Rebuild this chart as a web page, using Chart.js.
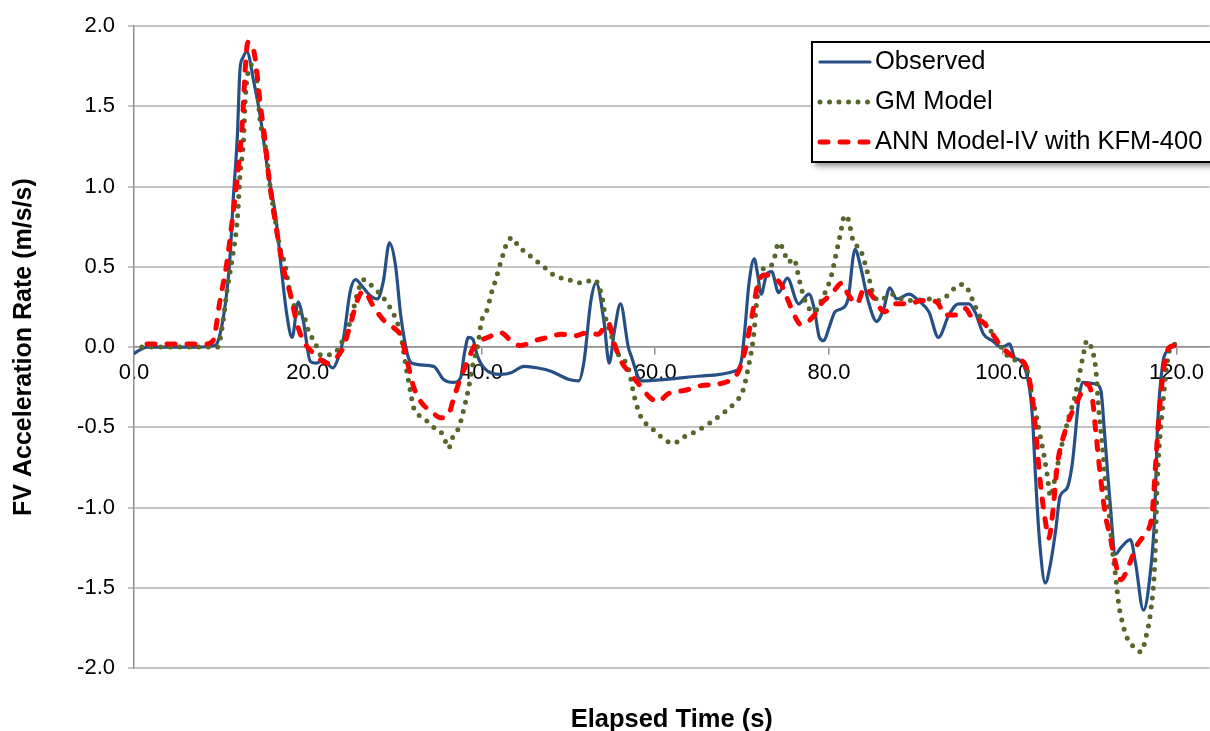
<!DOCTYPE html>
<html>
<head>
<meta charset="utf-8">
<title>FV Acceleration Rate</title>
<script src="https://cdn.jsdelivr.net/npm/chart.js@4.4.0/dist/chart.umd.min.js"></script>
<style>
  html, body { margin: 0; padding: 0; background: #fff; }
  #chartWrap { width: 1210px; height: 731px; }
</style>
</head>
<body>
<div id="chartWrap"><canvas id="accelChart" width="1210" height="731"></canvas></div>
<script>
// Elapsed time (s) and acceleration rate (m/s/s) for each series
const obsTime = [
  0, 0.6, 1.5, 4, 7, 9.3, 9.9, 10.7, 11.1, 11.4,
  11.9, 12.2, 12.5, 13.0, 13.8, 14.5, 15.4, 16.3, 17.0, 17.6,
  18.2, 18.9, 19.5, 20.3, 21.0, 21.8, 22.9, 23.5, 24.1, 24.9,
  25.5, 26.4, 27.2, 28.0, 28.7, 29.4, 30.1, 30.7, 31.5, 32.0,
  34.5, 35.6, 36.8, 37.6, 38.0, 38.5, 39.0, 39.5, 40.3, 42.2,
  43.4, 44.9, 46.5, 48.0, 50.0, 51.2, 51.8, 52.6, 53.2, 54.1,
  54.7, 55.3, 56.0, 56.9, 57.2, 58.4, 61.5, 65.3, 69.1, 69.9,
  70.3, 70.8, 71.4, 71.8, 72.2, 72.8, 73.4, 74.2, 75.2, 76.5,
  77.7, 78.3, 78.9, 79.4, 80.0, 80.7, 81.5, 82.2, 83.0, 83.6,
  84.5, 85.5, 86.3, 87.0, 87.8, 89.2, 90.3, 91.5, 92.6, 93.8,
  94.9, 96.1, 96.8, 97.8, 98.8, 99.9, 100.8, 101.4, 101.9, 103.0,
  103.4, 103.8, 104.2, 104.9, 105.5, 106.1, 106.6, 107.4, 108.0, 108.8,
  109.2, 110.7, 111.3, 111.7, 112.3, 113.0, 113.6, 114.7, 115.3, 116.2,
  116.9, 117.5, 117.8, 118.4, 119.0, 119.5
];
const obsValue = [
  -0.04, -0.02, 0.0, 0.0, 0.0, 0.01, 0.08, 0.35, 0.6, 0.9,
  1.32, 1.73, 1.8, 1.84, 1.65, 1.45, 1.1, 0.82, 0.47, 0.2,
  0.06, 0.28, 0.16, -0.09, -0.1, -0.08, -0.13, -0.07, 0.05, 0.35,
  0.42, 0.37, 0.32, 0.30, 0.41, 0.65, 0.51, 0.2, -0.05, -0.1,
  -0.12, -0.2, -0.22, -0.19, -0.05, 0.06, 0.05, -0.05, -0.13, -0.17,
  -0.16, -0.12, -0.13, -0.15, -0.2, -0.21, -0.09, 0.29, 0.4, 0.16,
  -0.1, 0.1, 0.27, 0.0, -0.05, -0.21, -0.2, -0.18, -0.15, -0.09,
  0.1, 0.4, 0.55, 0.45, 0.33, 0.45, 0.47, 0.34, 0.43, 0.27,
  0.33, 0.24, 0.06, 0.04, 0.12, 0.22, 0.24, 0.3, 0.61, 0.51,
  0.29, 0.16, 0.24, 0.37, 0.3, 0.33, 0.29, 0.22, 0.06, 0.2,
  0.27, 0.27, 0.22, 0.08, 0.04, 0.0, 0.02, -0.07, -0.08, -0.23,
  -0.42, -0.83, -1.18, -1.47, -1.35, -1.14, -0.93, -0.88, -0.73, -0.31,
  -0.22, -0.23, -0.27, -0.52, -0.93, -1.29, -1.25, -1.2, -1.35, -1.64,
  -1.45, -1.04, -0.52, -0.11, -0.02, 0.0
];

const gmTime = [
  0.9, 1.5, 5.0, 9.6, 10.2, 10.7, 11.3, 11.9, 12.2, 12.6,
  12.8, 13.0, 13.6, 14.0, 14.5, 15.1, 15.7, 16.3, 16.8, 17.4,
  18.0, 18.9, 19.5, 20.1, 20.9, 21.5, 23.0, 24.1, 24.9, 25.7,
  26.4, 27.2, 28.0, 29.2, 30.1, 30.7, 31.3, 31.8, 32.2, 33.3,
  34.5, 35.6, 36.2, 36.7, 37.4, 38.0, 38.5, 39.0, 39.6, 40.0,
  40.7, 41.1, 41.7, 42.0, 42.5, 43.0, 43.6, 44.3, 44.9, 46.0,
  47.2, 48.3, 50.0, 51.5, 53.0, 53.8, 54.3, 54.9, 55.7, 56.9,
  57.6, 58.4, 59.5, 60.7, 62.1, 63.3, 64.5, 66.1, 67.6, 69.1,
  70.1, 70.7, 71.3, 71.7, 72.2, 73.0, 73.6, 74.2, 74.8, 75.3,
  76.0, 76.3, 76.8, 77.4, 78.3, 79.2, 80.3, 80.7, 81.3, 81.8,
  82.2, 82.8, 83.6, 84.1, 84.6, 85.1, 85.8, 87.2, 88.4, 89.9,
  91.5, 92.6, 93.8, 94.7, 95.5, 96.1, 96.7, 97.4, 98.4, 99.6,
  100.3, 101.4, 102.6, 103.4, 104.2, 104.8, 105.1, 105.5, 106.1, 106.8,
  107.6, 108.3, 109.2, 109.7, 110.3, 110.7, 111.1, 111.5, 111.8, 112.3,
  112.6, 113.0, 113.4, 113.8, 114.1, 114.7, 115.3, 115.9, 116.6, 117.0,
  117.5, 117.8, 118.4, 119.2, 119.9
];
const gmValue = [
  0.0, 0.0, 0.0, 0.0, 0.14, 0.35, 0.55, 0.8, 1.07, 1.28,
  1.53, 1.67, 1.76, 1.73, 1.42, 1.26, 0.99, 0.78, 0.62, 0.51,
  0.33, 0.22, 0.2, 0.1, 0.02, -0.05, -0.04, 0.05, 0.16, 0.33,
  0.42, 0.39, 0.35, 0.27, 0.18, 0.08, -0.12, -0.27, -0.38, -0.44,
  -0.5, -0.55, -0.63, -0.56, -0.5, -0.38, -0.26, -0.11, 0.02, 0.16,
  0.24, 0.33, 0.43, 0.49, 0.58, 0.66, 0.68, 0.62, 0.6, 0.55,
  0.5, 0.45, 0.42, 0.4, 0.42, 0.33, 0.18, 0.08, -0.04, -0.13,
  -0.31, -0.44, -0.5, -0.56, -0.6, -0.56, -0.53, -0.48, -0.42, -0.35,
  -0.27, -0.13, 0.06, 0.29, 0.47, 0.5, 0.53, 0.65, 0.6, 0.53,
  0.55, 0.49, 0.37, 0.27, 0.22, 0.3, 0.45, 0.55, 0.7, 0.82,
  0.8, 0.66, 0.61, 0.53, 0.43, 0.33, 0.29, 0.33, 0.3, 0.29,
  0.3, 0.29, 0.33, 0.38, 0.39, 0.35, 0.27, 0.19, 0.12, 0.02,
  -0.04, -0.08, -0.11, -0.31, -0.52, -0.69, -0.79, -0.93, -0.79, -0.61,
  -0.44, -0.31, -0.07, 0.04, -0.02, -0.13, -0.42, -0.63, -0.83, -1.06,
  -1.25, -1.43, -1.62, -1.72, -1.78, -1.85, -1.87, -1.9, -1.78, -1.66,
  -1.35, -0.83, -0.38, -0.02, 0.02
];

const annTime = [
  1.5, 4.0, 6.0, 8.4, 9.1, 9.9, 10.7, 11.4, 12.0, 12.5,
  12.8, 13.1, 13.6, 14.0, 14.5, 15.1, 15.5, 15.9, 16.5, 17.2,
  18.0, 18.8, 19.5, 20.7, 22.3, 23.4, 24.1, 24.9, 25.7, 26.4,
  27.6, 28.7, 29.9, 30.7, 31.5, 32.2, 33.0, 34.2, 35.3, 36.2,
  36.8, 37.6, 38.4, 39.1, 39.9, 40.7, 42.2, 43.4, 44.5, 46.1,
  47.6, 49.2, 50.7, 52.2, 53.4, 54.6, 55.3, 56.1, 57.2, 58.4,
  59.3, 60.3, 61.5, 63.4, 65.3, 67.3, 68.8, 69.6, 70.3, 71.1,
  71.8, 72.6, 73.7, 74.5, 75.3, 76.0, 76.8, 77.6, 78.0, 78.6,
  79.1, 80.3, 81.5, 82.2, 83.2, 84.1, 85.1, 86.4, 87.6, 89.2,
  90.7, 91.8, 92.6, 93.3, 94.5, 95.7, 96.5, 97.6, 98.6, 99.6,
  100.7, 101.9, 102.6, 103.4, 103.8, 104.3, 104.9, 105.3, 105.7, 106.3,
  107.2, 108.2, 109.2, 109.7, 110.3, 110.7, 111.3, 111.8, 112.4, 113.0,
  113.6, 114.6, 115.3, 116.4, 117.2, 117.6, 118.0, 118.6, 119.2, 120.1
];
const annValue = [
  0.02, 0.02, 0.02, 0.02, 0.04, 0.29, 0.53, 0.83, 1.11, 1.42,
  1.73, 1.9, 1.88, 1.78, 1.53, 1.28, 1.07, 0.91, 0.7, 0.49,
  0.33, 0.14, 0.04, -0.04, -0.1, -0.06, 0.0, 0.14, 0.29, 0.35,
  0.25, 0.17, 0.12, 0.07, -0.1, -0.25, -0.34, -0.4, -0.44, -0.42,
  -0.32, -0.19, -0.09, 0.0, 0.04, 0.06, 0.09, 0.04, 0.01, 0.04,
  0.06, 0.08, 0.07, 0.09, 0.08, 0.15, 0.02, -0.09, -0.17, -0.25,
  -0.31, -0.34, -0.29, -0.27, -0.24, -0.23, -0.2, -0.15, -0.03, 0.18,
  0.39, 0.45, 0.43, 0.39, 0.29, 0.2, 0.14, 0.16, 0.18, 0.22,
  0.27, 0.33, 0.4, 0.33, 0.27, 0.37, 0.31, 0.22, 0.27, 0.27,
  0.29, 0.29, 0.27, 0.2, 0.2, 0.24, 0.18, 0.16, 0.1, 0.02,
  -0.04, -0.08, -0.11, -0.31, -0.52, -0.83, -1.08, -1.19, -1.06, -0.73,
  -0.52, -0.38, -0.27, -0.23, -0.31, -0.52, -0.83, -1.04, -1.19, -1.35,
  -1.45, -1.35, -1.25, -1.16, -1.04, -0.73, -0.42, -0.11, 0.0, 0.01
];

// Axis ticks
const xTicks = [0, 20, 40, 60, 80, 100, 120];
const xMax = 123.8;
const yMin = -2.0;
const yMax = 2.0;
const yStep = 0.5;

function toPoints(times, values) {
  return times.map((t, i) => ({ x: t, y: values[i] }));
}

Chart.defaults.font.family = "'Liberation Sans', Arial, sans-serif";
Chart.defaults.color = '#000';

// Legend drawn as a framed box with a drop shadow, inside the plot
const legendBox = {
  id: 'legendBox',
  afterDatasetsDraw(chart) {
    const ctx = chart.ctx;
    const left = 812, top = 42, width = 420, height = 120;

    ctx.save();
    ctx.shadowColor = 'rgba(0, 0, 0, 0.45)';
    ctx.shadowBlur = 6;
    ctx.shadowOffsetX = 3;
    ctx.shadowOffsetY = 4;
    ctx.fillStyle = '#fff';
    ctx.fillRect(left, top, width, height);
    ctx.restore();

    ctx.save();
    ctx.strokeStyle = '#000';
    ctx.lineWidth = 2;
    ctx.strokeRect(left, top, width, height);

    chart.data.datasets.forEach((ds, i) => {
      const y = top + 20 + i * 40;
      ctx.beginPath();
      ctx.strokeStyle = ds.borderColor;
      ctx.lineWidth = ds.borderWidth;
      ctx.lineCap = ds.borderCapStyle || 'butt';
      ctx.setLineDash(ds.borderDash || []);
      ctx.moveTo(left + 8, y);
      ctx.lineTo(left + 58, y);
      ctx.stroke();

      ctx.setLineDash([]);
      ctx.fillStyle = '#000';
      ctx.font = "25.5px 'Liberation Sans', Arial, sans-serif";
      ctx.textBaseline = 'middle';
      ctx.textAlign = 'left';
      ctx.fillText(ds.label, left + 63, y);
    });
    ctx.restore();
  }
};

const ctx = document.getElementById('accelChart').getContext('2d');
new Chart(ctx, {
  type: 'line',
  data: {
    datasets: [
      {
        label: 'Observed',
        data: toPoints(obsTime, obsValue),
        borderColor: '#264F86',
        borderWidth: 3.2,
        borderCapStyle: 'round',
        pointRadius: 0,
        cubicInterpolationMode: 'monotone',
        order: 2
      },
      {
        label: 'GM Model',
        data: toPoints(gmTime, gmValue),
        borderColor: '#56672B',
        borderWidth: 5,
        borderDash: [0, 9.5],
        borderCapStyle: 'round',
        pointRadius: 0,
        cubicInterpolationMode: 'monotone',
        order: 1
      },
      {
        label: 'ANN Model-IV with KFM-400',
        data: toPoints(annTime, annValue),
        borderColor: '#FF0000',
        borderWidth: 5,
        borderDash: [8, 12],
        borderCapStyle: 'round',
        pointRadius: 0,
        cubicInterpolationMode: 'monotone',
        order: 0
      }
    ]
  },
  options: {
    responsive: false,
    animation: false,
    layout: { padding: { top: 24, right: 0, bottom: 0, left: 0 } },
    plugins: {
      legend: { display: false },
      tooltip: { enabled: false }
    },
    scales: {
      x: {
        type: 'linear',
        position: { y: 0 },
        min: 0,
        max: xMax,
        afterBuildTicks: scale => {
          scale.ticks = xTicks.map(v => ({ value: v }));
        },
        ticks: {
          padding: 6,
          maxRotation: 0,
          autoSkip: false,
          font: { size: 22 },
          callback: v => Number(v).toFixed(1)
        },
        grid: { drawOnChartArea: false, tickLength: 7, color: '#8f8f8f', lineWidth: 1.5 },
        border: { color: '#8f8f8f', width: 1.5 }
      },
      xTitle: {
        type: 'linear',
        axis: 'x',
        position: 'bottom',
        min: 0,
        max: xMax,
        ticks: { display: false },
        grid: { display: false },
        border: { display: false },
        title: {
          display: true,
          text: 'Elapsed Time (s)',
          font: { size: 25.5, weight: 'bold', lineHeight: 0.9 },
          padding: 0
        },
        afterFit: scale => { scale.height = 63; }
      },
      y: {
        type: 'linear',
        min: yMin,
        max: yMax,
        ticks: {
          stepSize: yStep,
          padding: 13,
          font: { size: 22 },
          callback: v => Number(v).toFixed(1)
        },
        grid: { color: '#c4c4c4', lineWidth: 2, tickLength: 6 },
        border: { color: '#8f8f8f', width: 1.5 },
        title: {
          display: true,
          text: 'FV Acceleration Rate (m/s/s)',
          font: { size: 25, weight: 'bold', lineHeight: 1 },
          padding: { top: 11.5, bottom: 0 }
        },
        afterFit: scale => { scale.width = 134; }
      }
    }
  },
  plugins: [legendBox]
});
</script>
</body>
</html>
